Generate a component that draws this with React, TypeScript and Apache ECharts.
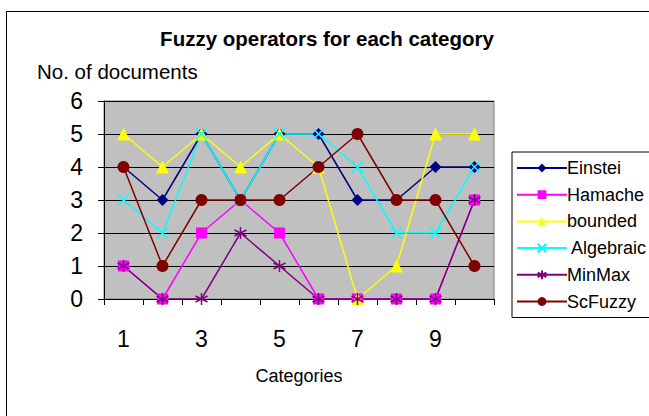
import React, { useEffect, useRef } from "react";
import * as echarts from "echarts";

const categories = ["1", "2", "3", "4", "5", "6", "7", "8", "9", "10"];
const einstein = [4, 3, 5, 3, 5, 5, 3, 3, 4, 4];
const hamacher = [1, 0, 2, 3, 2, 0, 0, 0, 0, 3];
const bounded = [5, 4, 5, 4, 5, 4, 0, 1, 5, 5];
const algebraic = [3, 2, 5, 3, 5, 5, 4, 2, 2, 4];
const minmax = [1, 0, 0, 2, 1, 0, 0, 0, 0, 3];
const scfuzzy = [4, 1, 3, 3, 3, 4, 5, 3, 3, 1];
const seriesNames = ["Einstei", "Hamache", "bounded", " Algebraic", "MinMax", "ScFuzzy"];

const FONT = "Arial, 'Liberation Sans', sans-serif";

export default function App() {
  const ref = useRef<HTMLDivElement>(null);
  useEffect(() => {
    const chart = echarts.init(ref.current!, null, { renderer: "svg" });
    const xPath = "path://M0 0 L10 10 M10 0 L0 10";
    const starPath = "path://M5 0 L5 10 M0 2.5 L10 7.5 M10 2.5 L0 7.5";
    const mk = (name: string, data: number[], color: string, symbol: string, size: number, stroke: boolean) => ({
      name,
      type: "line",
      data,
      symbol,
      symbolSize: size,
      showSymbol: true,
      lineStyle: { color, width: 1.5 },
      itemStyle: stroke
        ? { color: "rgba(0,0,0,0)", borderColor: color, borderWidth: 1.5 }
        : { color, borderColor: color, borderWidth: 0 },
      emphasis: { disabled: true },
    });
    chart.setOption({
      animation: false,
      backgroundColor: "#fff",
      title: {
        text: "Fuzzy operators for each category",
        left: 322,
        textAlign: "center",
        top: 23,
        textStyle: { fontFamily: FONT, fontSize: 20.5, fontWeight: "bold", color: "#000" },
      },
      graphic: [
        {
          type: "rect",
          shape: { x: 6.5, y: 11.5, width: 660, height: 420 },
          style: { fill: "none", stroke: "#000", lineWidth: 1 },
          silent: true,
        },
        {
          type: "text",
          left: 37,
          top: 61,
          style: { text: "No. of documents", font: `20.5px ${FONT}`, fill: "#000" },
        },
      ],
      legend: {
        orient: "vertical",
        left: 512,
        top: 152,
        padding: [7, 20, 7, 4],
        itemGap: 8.7,
        itemWidth: 50,
        itemHeight: 11,
        borderColor: "#000",
        borderWidth: 1,
        backgroundColor: "#fff",
        textStyle: { fontFamily: FONT, fontSize: 18, color: "#000", padding: [0, 0, 0, -5] },
        data: seriesNames,
      },
      grid: { left: 104, top: 101, width: 390, height: 198, show: true, backgroundColor: "#C0C0C0", borderColor: "#808080", borderWidth: 1 },
      xAxis: {
        type: "category",
        data: categories,
        boundaryGap: true,
        name: "Categories",
        nameLocation: "middle",
        nameGap: 68,
        nameTextStyle: { fontFamily: FONT, fontSize: 18, color: "#000" },
        axisLine: { lineStyle: { color: "#000", width: 1 } },
        axisTick: { show: true, interval: 0, length: 6, lineStyle: { color: "#000" } },
        axisLabel: { interval: 1, fontFamily: FONT, fontSize: 23, color: "#000", margin: 28 },
      },
      yAxis: {
        type: "value",
        min: 0,
        max: 6,
        interval: 1,
        axisLine: { show: true, lineStyle: { color: "#000", width: 1 } },
        axisTick: { show: true, length: 6, lineStyle: { color: "#000" } },
        axisLabel: { fontFamily: FONT, fontSize: 23, color: "#000", margin: 21 },
        splitLine: { show: true, lineStyle: { color: "#000", width: 1 } },
      },
      series: [
        mk(seriesNames[0], einstein, "#000080", "diamond", 12, false),
        mk(seriesNames[1], hamacher, "#FF00FF", "rect", 11, false),
        mk(seriesNames[2], bounded, "#FFFF00", "triangle", 13, false),
        mk(seriesNames[3], algebraic, "#00FFFF", xPath, 11, true),
        mk(seriesNames[4], minmax, "#800080", starPath, 12, true),
        mk(seriesNames[5], scfuzzy, "#800000", "circle", 12, false),
      ],
    });
    return () => chart.dispose();
  }, []);
  return <div ref={ref} style={{ width: 649, height: 416, position: "absolute", left: 0, top: 0 }} />;
}
